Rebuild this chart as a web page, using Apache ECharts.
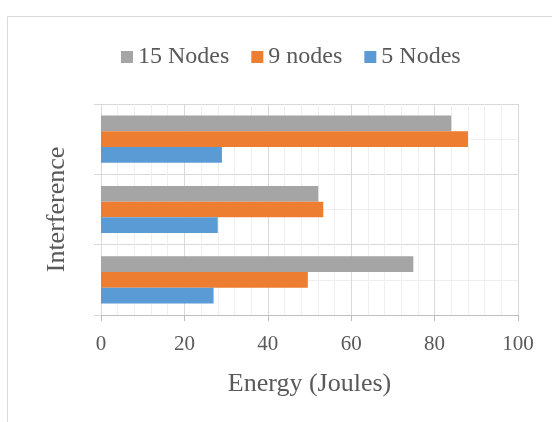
<!DOCTYPE html>
<html>
<head>
<meta charset="utf-8">
<script src="https://cdn.jsdelivr.net/npm/echarts@6/dist/echarts.min.js"></script>
<style>
  html, body { margin: 0; padding: 0; background: #fff; }
  #chart { width: 552px; height: 422px; }
</style>
</head>
<body>
<div id="chart"></div>
<script>
// Interference levels, listed bottom to top on the category axis
const categories = ['Level 1', 'Level 2', 'Level 3'];
const nodes5 = [27, 28, 29];
const nodes9 = [49.6, 53.3, 88];
const nodes15 = [74.9, 52.1, 84];
const energyTicks = [0, 20, 40, 60, 80, 100];

const font = 'Liberation Serif';
const textColor = '#595959';

const chart = echarts.init(document.getElementById('chart'), null, { renderer: 'canvas' });

chart.setOption({
  animation: false,
  backgroundColor: '#ffffff',
  textStyle: { fontFamily: font, color: textColor },
  graphic: [{
    type: 'rect',
    shape: { x: 7.5, y: 16.5, width: 600, height: 500 },
    style: { fill: 'none', stroke: '#d9d9d9', lineWidth: 1 },
    silent: true,
    z: -10
  }],
  legend: {
    data: ['15 Nodes', '9 nodes', '5 Nodes'],
    top: 40,
    left: 116,
    itemWidth: 12,
    itemHeight: 12,
    itemGap: 22,
    icon: 'rect',
    textStyle: { fontFamily: font, fontSize: 24, color: textColor }
  },
  grid: { left: 101, right: 34, top: 104, bottom: 107, containLabel: false },
  xAxis: {
    type: 'value',
    min: energyTicks[0],
    max: energyTicks[energyTicks.length - 1],
    interval: 20,
    name: 'Energy (Joules)',
    nameLocation: 'middle',
    nameGap: 56,
    nameTextStyle: { fontFamily: font, fontSize: 26, color: textColor },
    axisLine: { show: true, lineStyle: { color: '#bfbfbf', width: 1 } },
    axisTick: { show: true, length: 6, lineStyle: { color: '#bfbfbf' } },
    axisLabel: { fontFamily: font, fontSize: 21, color: textColor, margin: 19 },
    splitLine: { show: true, lineStyle: { color: '#d9d9d9', width: 1 } },
    minorTick: { show: false, splitNumber: 5 },
    minorSplitLine: { show: true, lineStyle: { color: '#efefef', width: 1 } }
  },
  yAxis: [{
    type: 'category',
    data: categories,
    name: 'Interference',
    nameLocation: 'middle',
    nameGap: 31,
    nameTextStyle: { fontFamily: font, fontSize: 26, color: textColor },
    axisLine: { show: true, lineStyle: { color: '#d9d9d9', width: 1 } },
    axisTick: { show: true, length: 7, lineStyle: { color: '#d9d9d9' } },
    axisLabel: { show: false },
    splitLine: { show: false }
  }, {
    // helper axis for the horizontal grid: full lines at category edges, faint lines at mid-category
    type: 'value',
    min: 0,
    max: 6,
    interval: 1,
    position: 'left',
    axisLine: { show: false },
    axisTick: { show: false },
    axisLabel: { show: false },
    splitLine: { show: true, lineStyle: { color: ['#d9d9d9', '#efefef'], width: 1 } }
  }],
  // first series sits at the top of each category band
  series: [{
    name: '15 Nodes',
    type: 'bar',
    data: nodes15,
    itemStyle: { color: '#a5a5a5' },
    barGap: '0%',
    barCategoryGap: '33%'
  }, {
    name: '9 nodes',
    type: 'bar',
    data: nodes9,
    itemStyle: { color: '#ed7d31' },
    barGap: '0%',
    barCategoryGap: '33%'
  }, {
    name: '5 Nodes',
    type: 'bar',
    data: nodes5,
    itemStyle: { color: '#5b9bd5' },
    barGap: '0%',
    barCategoryGap: '33%'
  }]
});
</script>
</body>
</html>
